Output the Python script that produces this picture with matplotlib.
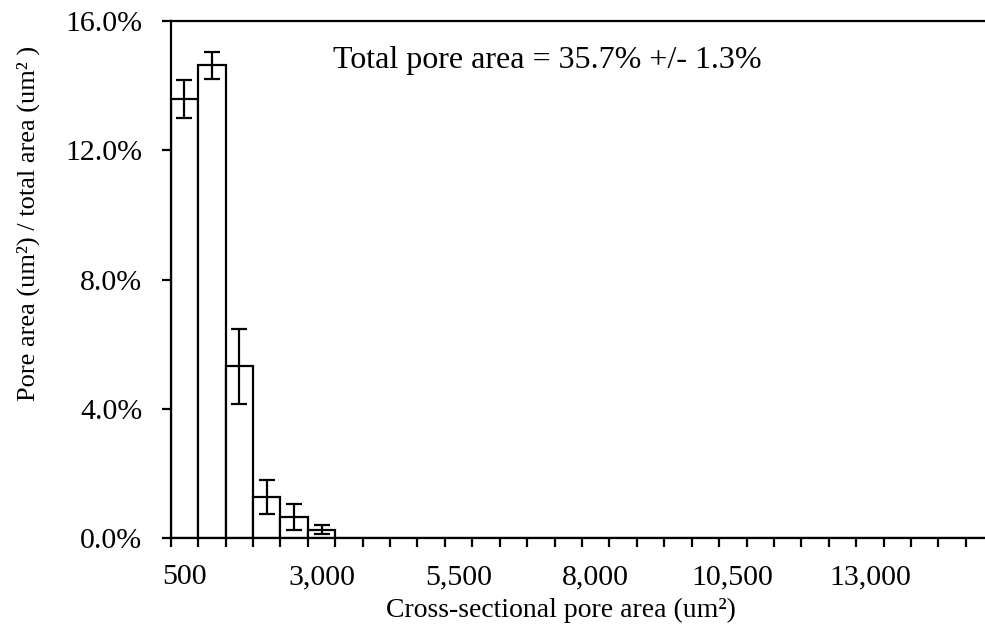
import matplotlib
matplotlib.use("Agg")
import matplotlib.pyplot as plt
import numpy as np

plt.rcParams['font.family'] = ['Liberation Serif', 'DejaVu Serif']

# ---- data ----
bin_labels = [500, 1000, 1500, 2000, 2500, 3000, 3500, 4000, 4500, 5000,
              5500, 6000, 6500, 7000, 7500, 8000, 8500, 9000, 9500, 10000,
              10500, 11000, 11500, 12000, 12500, 13000, 13500, 14000, 14500, 15000]
pore_pct = [13.58, 14.63, 5.32, 1.27, 0.65, 0.255, 0, 0, 0, 0,
            0, 0, 0, 0, 0, 0, 0, 0, 0, 0,
            0, 0, 0, 0, 0, 0, 0, 0, 0, 0]
pore_err = [0.58, 0.42, 1.16, 0.54, 0.40, 0.145, 0, 0, 0, 0,
            0, 0, 0, 0, 0, 0, 0, 0, 0, 0,
            0, 0, 0, 0, 0, 0, 0, 0, 0, 0]
y_ticks = [0, 4, 8, 12, 16]
label_every = 5
annotation = "Total pore area = 35.7% +/- 1.3%"
xlabel = "Cross-sectional pore area (um²)"
ylabel = "Pore area (um²) / total area (um² )"

W, H = 985, 632
fig = plt.figure(figsize=(W / 100, H / 100), dpi=100)
n = len(bin_labels)
ax_left, ax_right = 170.7, 170.7 + n * 27.42
ax_bot, ax_top = 538, 21
ax = fig.add_axes([ax_left / W, (H - ax_bot) / H, (ax_right - ax_left) / W, (ax_bot - ax_top) / H])

centers = np.arange(n) + 0.5
ax.bar(centers, pore_pct, width=1.0, color='white', edgecolor='black', linewidth=1.6, zorder=2)
nz = [i for i in range(n) if pore_pct[i] > 0]
ax.errorbar([centers[i] for i in nz], [pore_pct[i] for i in nz], yerr=[pore_err[i] for i in nz],
            fmt='none', ecolor='black', elinewidth=1.6, capsize=5.6, capthick=1.6, zorder=3)

ax.set_xlim(0, n)
ax.set_ylim(0, 16)

# x ticks: marks at bin boundaries, labels at centers
ax.set_xticks(np.arange(0, n + 1))
ax.set_xticklabels([])
ax.set_xticks(centers[::label_every], minor=True)
ax.set_xticklabels([f"{v:,}" for v in bin_labels[::label_every]], minor=True)
ax.tick_params(axis='x', which='major', direction='out', length=6.5, width=1.6)
ax.tick_params(axis='x', which='minor', length=0, pad=19, labelsize=21.5)

ax.set_yticks(y_ticks)
ax.set_yticklabels([f"{v:.1f}%" for v in y_ticks])
ax.tick_params(axis='y', direction='out', length=6.5, width=1.6, pad=14, labelsize=21.5)

ax.spines['right'].set_visible(False)
for s in ['left', 'bottom', 'top']:
    ax.spines[s].set_linewidth(1.6)

fig.text(333 / W, (H - 68) / H, annotation, fontsize=23, ha='left', va='baseline')
fig.text(561 / W, (H - 610) / H, xlabel, fontsize=20, ha='center', va='center')
fig.text(28 / W, (H - 223) / H, ylabel, fontsize=19, ha='center', va='center', rotation=90)

fig.savefig("out.png", dpi=100)
